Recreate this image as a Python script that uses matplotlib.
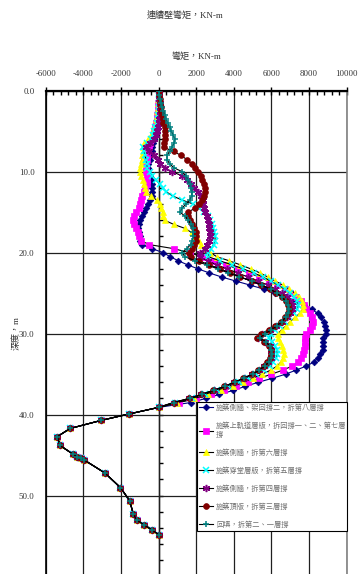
import numpy as np
import matplotlib
matplotlib.use("Agg")
import matplotlib.pyplot as plt
from matplotlib.ticker import MultipleLocator, FuncFormatter

plt.rcParams["axes.unicode_minus"] = False
SERIF_CJK = ["Liberation Serif", "Noto Sans CJK TC"]

# Depth (m) of the computed wall nodes in the upper, stage-dependent part
depth_upper = np.arange(0, 38.51, 0.5)

# Bending moment (kN-m) per construction stage, upper part (0 - 38.5 m)
m_stage8 = [0, 0, 10, 10, 0, -20, -40, -60, -90, -120,
            -160, -200, -250, -300, -340, -360, -380, -470, -540, -560,
            -540, -480, -420, -370, -350, -350, -370, -450, -560, -670,
            -780, -880, -970, -1050, -1080, -1040, -1000, -990, -900, -350,
            250, 620, 1050, 1540, 2100, 2700, 3350, 4100, 4860, 5600,
            6200, 6750, 7300, 7750, 8170, 8450, 8650, 8780, 8850, 8900,
            8880, 8760, 8720, 8760, 8720, 8600, 8450, 8250, 7850, 7300,
            6750, 6050, 5300, 4600, 3970, 3230, 2500, 1700]

m_stage7 = [0, 0, 0, -10, -20, -40, -70, -100, -140, -190,
            -250, -310, -380, -450, -520, -560, -600, -640, -660, -660,
            -650, -640, -630, -640, -720, -790, -860, -920, -970, -1050,
            -1200, -1330, -1350, -1330, -1200, -1080, -1030, -950, -500, 800,
            1650, 2300, 2950, 3600, 4200, 4800, 5350, 5850, 6300, 6700,
            7000, 7300, 7550, 7720, 7850, 8050, 8180, 8220, 8170, 8050,
            7850, 7780, 7780, 7780, 7740, 7680, 7580, 7430, 7100, 6600,
            6000, 5350, 4750, 4100, 3500, 2800, 2000, 1100]

m_stage6 = [0, 0, -10, -20, -40, -60, -90, -120, -150, -220,
            -300, -420, -550, -750, -850, -830, -860, -900, -940, -980,
            -990, -930, -850, -780, -720, -680, -400, -100, 60, 150,
            210, 260, 320, 800, 1400, 1750, 1950, 2130, 2280, 2420,
            2750, 3100, 3750, 4350, 4900, 5390, 5800, 6200, 6600, 6950,
            7250, 7450, 7600, 7680, 7650, 7500, 7250, 7000, 6780, 6550,
            6350, 6350, 6460, 6560, 6630, 6650, 6620, 6500, 6300, 5950,
            5500, 5000, 4500, 3950, 3300, 2600, 1900, 1000]

m_stage5 = [0, 0, 10, 20, 20, 10, -10, -40, -100, -170,
            -240, -310, -400, -600, -820, -780, -720, -680, -640, -600,
            -480, -330, -150, 50, 230, 420, 750, 1250, 1850, 2150,
            2400, 2650, 2750, 2830, 2900, 2950, 3000, 3000, 2920, 2800,
            2650, 2650, 3250, 3900, 4500, 5050, 5550, 5950, 6350, 6700,
            7000, 7200, 7350, 7420, 7380, 7200, 6950, 6700, 6450, 6200,
            5950, 5850, 6050, 6200, 6280, 6300, 6250, 6100, 5900, 5600,
            5200, 4750, 4250, 3700, 3100, 2450, 1750, 850]

m_stage4 = [0, 10, 30, 50, 70, 80, 60, 30, 0, -40,
            -80, -120, -250, -450, -680, -500, -250, -50, 100, 350,
            700, 1250, 1500, 1700, 1880, 2120, 2260, 2340, 2380, 2420,
            2470, 2550, 2620, 2660, 2700, 2730, 2730, 2680, 2570, 2450,
            2200, 2200, 2600, 3100, 3650, 4200, 4750, 5300, 5800, 6200,
            6550, 6800, 7000, 7100, 7100, 7000, 6800, 6550, 6250, 5900,
            5500, 5300, 5650, 5900, 6000, 6000, 5950, 5820, 5620, 5330,
            4980, 4530, 4030, 3520, 2920, 2270, 1620, 800]

m_stage3 = [0, 20, 50, 80, 120, 150, 180, 210, 260, 320,
            340, 340, 320, 280, 280, 800, 1200, 1500, 1750, 1950,
            2100, 2230, 2300, 2400, 2460, 2470, 2430, 2330, 2150, 1950,
            1550, 1580, 1680, 1800, 1900, 1980, 2000, 1980, 1900, 1780,
            1600, 1700, 2150, 2700, 3250, 3800, 4350, 4950, 5450, 5900,
            6250, 6550, 6750, 6900, 6950, 6880, 6720, 6500, 6200, 5850,
            5450, 5250, 5600, 5850, 5950, 5950, 5900, 5780, 5580, 5300,
            4950, 4500, 4000, 3500, 2900, 2250, 1600, 800]

m_backfill = [0, 40, 100, 140, 200, 260, 330, 400, 480, 580,
              680, 780, 860, 820, 700, 580, 450, 450, 580, 800,
              1250, 1450, 1550, 1650, 1700, 1750, 1750, 1650, 1450, 1250,
              1150, 1400, 1580, 1720, 1820, 1850, 1850, 1800, 1700, 1500,
              1250, 1400, 1950, 2550, 3150, 3700, 4300, 4950, 5500, 5950,
              6300, 6550, 6750, 6900, 6950, 6900, 6750, 6550, 6300, 6000,
              5650, 5400, 5700, 5900, 6000, 6020, 5980, 5850, 5650, 5350,
              5000, 4550, 4050, 3550, 2950, 2300, 1650, 800]

# Lower part of the wall (identical for every stage)
depth_lower = [39.1, 39.9, 40.7, 41.7, 42.7, 43.8, 44.9, 45.2, 45.4, 45.6,
               47.2, 49.0, 50.6, 52.3, 53.0, 53.6, 54.2, 54.8]
m_lower = [0, -1550, -3050, -4700, -5380, -5240, -4530, -4330, -4150, -3950,
           -2850, -2030, -1540, -1340, -1160, -770, -360, 0]

stage_labels = [
    "施築側牆、架回撐二，拆第八層撐",
    "施築上軌道層版，拆回撐一、二、第七層\n撐",
    "施築側牆，拆第六層撐",
    "施築穿堂層版，拆第五層撐",
    "施築側牆，拆第四層撐",
    "施築頂版，拆第三層撐",
    "回填，拆第二、一層撐",
]
stage_values = [m_stage8, m_stage7, m_stage6, m_stage5, m_stage4, m_stage3, m_backfill]

styles = [
    dict(color="#000080", marker="D", ms=3.4, mfc="#000080", mec="#000080", mew=0.5),
    dict(color="black", marker="s", ms=4.0, mfc="#FF00FF", mec="#FF00FF", mew=0.5),
    dict(color="black", marker="^", ms=4.8, mfc="#FFFF00", mec="#FFFF00", mew=0.5),
    dict(color="black", marker="x", ms=4.2, mfc="#00FFFF", mec="#00FFFF", mew=1.1),
    dict(color="black", marker=(6, 2, 0), ms=5.2, mfc="#800080", mec="#800080", mew=1.1),
    dict(color="black", marker="o", ms=4.2, mfc="#800000", mec="#800000", mew=0.5),
    dict(color="black", marker="+", ms=4.6, mfc="#008080", mec="#008080", mew=1.1),
]

fig = plt.figure(figsize=(3.58, 5.74), dpi=100)
ax = fig.add_axes([0.1277, -0.0047, 0.8408, 0.8467])
ax.set_xlim(-6000, 10000)
ax.set_ylim(60, 0)

for label, vals, st in zip(stage_labels, stage_values, styles):
    d = np.concatenate([depth_upper, depth_lower])
    m = np.concatenate([vals, m_lower])
    ax.plot(m, d, lw=0.8, label=label, zorder=3, **st)

# top moment axis
ax.xaxis.tick_top()
ax.xaxis.set_major_locator(MultipleLocator(2000))
ax.xaxis.set_minor_locator(MultipleLocator(400))
ax.xaxis.set_major_formatter(FuncFormatter(lambda v, p: f"{int(v)}"))
ax.tick_params(axis="x", which="major", direction="inout", length=6, width=1,
               pad=6, labelsize=6.3, colors="black", labelcolor="#333333")
ax.tick_params(axis="x", which="minor", direction="in", length=3, width=1)
for t in ax.get_xticklabels():
    t.set_family("Liberation Serif")

# depth labels on the left frame
ax.yaxis.set_major_locator(MultipleLocator(10))
ax.yaxis.set_major_formatter(FuncFormatter(lambda v, p: f"{v:.1f}"))
ax.tick_params(axis="y", which="major", length=0, pad=8, labelsize=6.3,
               labelcolor="#333333")
for t in ax.get_yticklabels():
    t.set_family("Liberation Serif")

ax.grid(True, which="major", color="#202020", lw=0.9)
ax.set_axisbelow(True)
ax.spines["top"].set_linewidth(1.6)
ax.spines["left"].set_linewidth(1.2)
ax.spines["right"].set_color("#808080")
ax.spines["right"].set_linewidth(1.2)

# depth axis crossing at zero moment
sec = ax.secondary_yaxis(0.375)
sec.set_yticks(np.arange(0, 61, 2))
sec.set_yticklabels([])
sec.tick_params(direction="in", length=3, width=1)
sec.spines["left"].set_linewidth(1.0)

leg = ax.legend(loc="upper left", bbox_to_anchor=(0.5017, 0.0961, 0.4983, 0.264),
                mode="expand", borderaxespad=0, frameon=True, fancybox=False,
                prop={"family": ["Noto Sans CJK TC"], "size": 5.2},
                handlelength=2.0, handletextpad=0.4, labelspacing=1.38,
                borderpad=0.3)
leg.get_frame().set_edgecolor("black")
leg.get_frame().set_linewidth(0.8)
leg.get_frame().set_alpha(1)
for t in leg.get_texts():
    t.set_color("#707070")
leg.set_zorder(10)

fig.text(185 / 358, 1 - 15 / 574, "連續壁彎矩，KN-m", ha="center", va="center",
         fontsize=6.5, family=SERIF_CJK, color="#333333")
fig.text(196 / 358, 1 - 57 / 574, "彎矩，KN-m", ha="center", va="center",
         fontsize=6.5, family=SERIF_CJK, color="#333333")
fig.text(16 / 358, 1 - 333 / 574, "深度，m", ha="center", va="center",
         rotation=90, fontsize=6.5, family=SERIF_CJK, color="#333333")

fig.savefig("out.png", dpi=100)
